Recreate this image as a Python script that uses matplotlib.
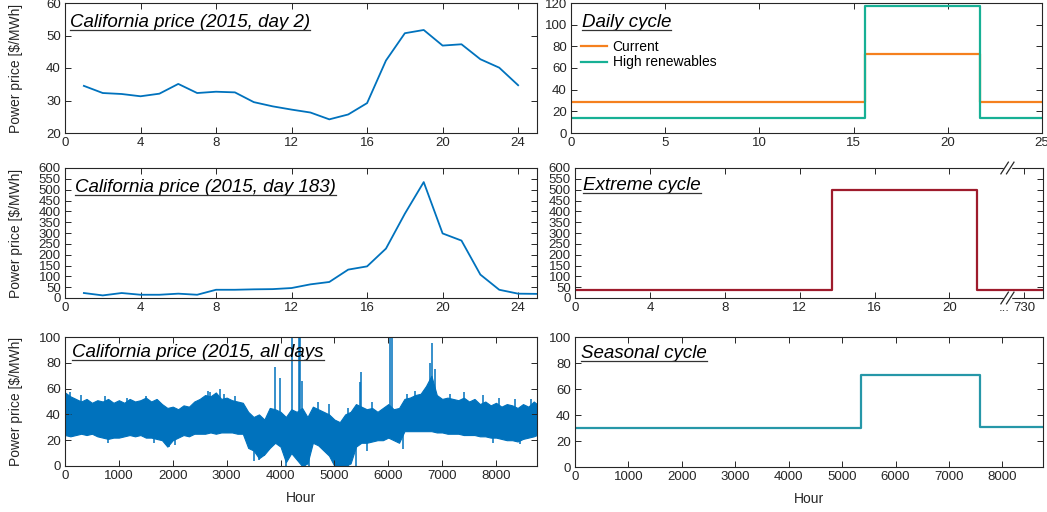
import numpy as np
import matplotlib
matplotlib.use('Agg')
import matplotlib.pyplot as plt
from matplotlib.lines import Line2D

plt.rcParams['font.family'] = ['Liberation Sans', 'DejaVu Sans']
plt.rcParams['font.size'] = 9

# --- data ---
day2_hours = list(range(1, 25))
day2_price = [34.5, 32.3, 32.0, 31.3, 32.1, 35.1, 32.3, 32.7, 32.5, 29.5, 28.2, 27.2,
              26.3, 24.2, 25.7, 29.2, 42.3, 50.7, 51.7, 46.9, 47.3, 42.7, 40.1, 34.7]

day183_hours = list(range(1, 26))
day183_price = [23, 12, 23, 15, 15, 20, 15, 38, 38, 40, 41, 46, 63, 74, 131, 146,
                228, 389, 535, 298, 265, 108, 38, 20, 19]

# whole year: price band (low / high) read every 100 hours, plus visible spikes
year_hours = list(range(0, 8760, 100)) + [8760]
year_band_high = [57, 54, 52, 50, 52, 49, 51, 50, 52, 49,
                  51, 49, 52, 50, 51, 53, 50, 52, 48, 45,
                  46, 44, 47, 46, 50, 52, 55, 54, 57, 52,
                  53, 51, 50, 49, 42, 38, 40, 36, 45, 44,
                  42, 38, 44, 42, 45, 38, 46, 44, 42, 40,
                  36, 34, 40, 42, 48, 46, 44, 45, 42, 45,
                  48, 44, 45, 52, 53, 55, 56, 62, 70, 55,
                  52, 53, 52, 51, 53, 50, 52, 48, 50, 47,
                  49, 46, 48, 47, 45, 48, 46, 50, 48]
year_band_low = [24, 23, 24, 25, 24, 25, 23, 22, 21, 22,
                 22, 23, 24, 23, 24, 22, 22, 21, 20, 15,
                 20, 22, 24, 23, 25, 25, 25, 26, 25, 26,
                 26, 26, 25, 25, 14, 12, 6, 9, 14, 18,
                 15, 3, 10, 5, 0, 2, 18, 16, 12, 8,
                 0, 0, 0, 2, 15, 18, 18, 19, 20, 20,
                 22, 20, 18, 27, 27, 27, 27, 27, 27, 26,
                 26, 25, 25, 25, 24, 24, 24, 23, 23, 22,
                 22, 21, 20, 20, 19, 21, 22, 23, 24]
spike_hours = [0, 100, 2700, 2870, 3900, 3990, 4220, 4340, 4360, 4400, 5470, 5500,
               6030, 6070, 6780, 6820, 6870,
               300, 750, 1150, 1500, 2650, 2950, 3150, 4700, 4900, 5250, 5700,
               6350, 6500, 7150, 7400, 7750, 8050, 8350, 8650,
               1930, 3600, 3700, 4100, 4250, 4450, 4520, 5050, 5150, 5250, 5400, 6270,
               800, 1650, 2050, 3500, 5600, 7950, 8450]
spike_price = [58, 57, 57, 60, 77, 68, 130, 130, 130, 66, 65, 73,
               130, 130, 80, 95, 75,
               55, 54, 53, 54, 58, 56, 54, 50, 48, 45, 50,
               56, 58, 56, 57, 55, 53, 52, 52,
               15, 5, 8, 0, 15, 0, 0, 0, 0, 0, 0, 13,
               18, 18, 16, 4, 12, 18, 17]

# stylised cycles: segment edges and levels
daily_edges = [0, 15.6, 21.7, 25]
daily_current = [29, 73, 28.5]
daily_high_ren = [14, 117, 14]

extreme_edges = [0, 13.75, 21.5, 25]
extreme_levels = [35, 500, 35]

seasonal_edges = [0, 5350, 7580, 8760]
seasonal_levels = [30, 71, 31]

blue = '#0072BD'
axcol = '#262626'

W, H = 1047, 512
fig = plt.figure(figsize=(W / 100, H / 100), dpi=100)


def px_axes(x0, y0, x1, y1):
    return fig.add_axes([x0 / W, 1 - y1 / H, (x1 - x0) / W, (y1 - y0) / H])


def style(ax):
    ax.tick_params(direction='in', top=True, right=True, length=4, width=0.7,
                   colors=axcol, labelsize=9.5, pad=3)
    for s in ax.spines.values():
        s.set_color(axcol)
        s.set_linewidth(0.8)


def steps(edges, levels):
    # turn segment edges/levels into a step outline
    return edges, list(levels) + [levels[-1]]


titles = []

# top-left
ax1 = px_axes(65, 3, 537, 133)
ax1.plot(day2_hours, day2_price, color=blue, lw=1.3)
ax1.set_xlim(0, 25)
ax1.set_ylim(20, 60)
ax1.set_xticks(range(0, 25, 4))
ax1.set_yticks(range(20, 61, 10))
titles.append(ax1.text(5 / 472, 1 - 24 / 130, 'California price (2015, day 2)',
                       transform=ax1.transAxes, style='italic', fontsize=13.5, va='baseline'))

# middle-left
ax2 = px_axes(65, 168, 537, 298)
ax2.plot(day183_hours, day183_price, color=blue, lw=1.3)
ax2.set_xlim(0, 25)
ax2.set_ylim(0, 600)
ax2.set_xticks(range(0, 25, 4))
ax2.set_yticks(range(0, 601, 50))
titles.append(ax2.text(10 / 472, 1 - 24 / 130, 'California price (2015, day 183)',
                       transform=ax2.transAxes, style='italic', fontsize=13.5, va='baseline'))

# bottom-left
ax3 = px_axes(65, 337, 537, 466)
ax3.fill_between(year_hours, year_band_low, year_band_high, color=blue, lw=0.8,
                 edgecolor=blue)
ax3.vlines(spike_hours, 35, spike_price, color=blue, lw=1.1)
ax3.set_xlim(0, 8760)
ax3.set_ylim(0, 100)
ax3.set_xticks(range(0, 8001, 1000))
ax3.set_yticks(range(0, 101, 20))
ax3.set_xlabel('Hour', fontsize=10, color=axcol)
ax3.xaxis.set_label_coords(0.5, -0.19)
titles.append(ax3.text(7 / 472, 1 - 20 / 129, 'California price (2015, all days',
                       transform=ax3.transAxes, style='italic', fontsize=13.5, va='baseline'))

for ax in (ax1, ax2, ax3):
    ax.set_ylabel('Power price [$/MWh]', fontsize=10, color=axcol)
    ax.yaxis.set_label_coords(-0.09, 0.5)

# top-right
ax4 = px_axes(571, 3, 1042, 133)
ex, lv = steps(daily_edges, daily_current)
ax4.step(ex, lv, where='post', color='#F5801E', lw=1.6, label='Current')
ex, lv = steps(daily_edges, daily_high_ren)
ax4.step(ex, lv, where='post', color='#17B095', lw=1.6, label='High renewables')
ax4.set_xlim(0, 25)
ax4.set_ylim(0, 120)
ax4.set_xticks(range(0, 26, 5))
ax4.set_yticks(range(0, 121, 20))
ax4.legend(loc='upper left', bbox_to_anchor=(0.0, 0.79), frameon=False, fontsize=10,
           handlelength=1.9, handletextpad=0.4, labelspacing=0.1, borderaxespad=0.3)
titles.append(ax4.text(11 / 471, 1 - 24 / 130, 'Daily cycle',
                       transform=ax4.transAxes, style='italic', fontsize=13.5, va='baseline'))

# middle-right
ax5 = px_axes(575, 168, 1043, 298)
ex, lv = steps(extreme_edges, extreme_levels)
ax5.step(ex, lv, where='post', color='#9E1B2C', lw=1.6)
ax5.set_xlim(0, 25)
ax5.set_ylim(0, 600)
ax5.set_xticks([0, 4, 8, 12, 16, 20, 24])
ax5.set_xticklabels(['0', '4', '8', '12', '16', '20', '730'])
ax5.set_yticks(range(0, 601, 50))
ax5.text(22.9, -0.03, '...', transform=ax5.get_xaxis_transform(), ha='center',
         va='top', fontsize=9.5, color=axcol)
bx = 23.1 / 25
for yb in (0.0, 1.0):
    ax5.plot([bx - 0.006, bx + 0.006], [yb, yb], transform=ax5.transAxes,
             color='white', lw=2.5, clip_on=False, zorder=5)
    for dx in (-0.006, 0.006):
        ax5.plot([bx + dx - 0.008, bx + dx + 0.008], [yb - 0.045, yb + 0.045],
                 transform=ax5.transAxes, color=axcol, lw=0.9, clip_on=False, zorder=6)
titles.append(ax5.text(8 / 468, 1 - 22 / 130, 'Extreme cycle',
                       transform=ax5.transAxes, style='italic', fontsize=13.5, va='baseline'))

# bottom-right
ax6 = px_axes(575, 337, 1043, 467)
ex, lv = steps(seasonal_edges, seasonal_levels)
ax6.step(ex, lv, where='post', color='#2697A8', lw=1.6)
ax6.set_xlim(0, 8760)
ax6.set_ylim(0, 100)
ax6.set_xticks(range(0, 8001, 1000))
ax6.set_yticks(range(0, 101, 20))
ax6.set_xlabel('Hour', fontsize=10, color=axcol)
ax6.xaxis.set_label_coords(0.5, -0.19)
titles.append(ax6.text(6 / 468, 1 - 21 / 130, 'Seasonal cycle',
                       transform=ax6.transAxes, style='italic', fontsize=13.5, va='baseline'))

for ax in (ax1, ax2, ax3, ax4, ax5, ax6):
    style(ax)

# underline the panel titles
fig.canvas.draw()
rend = fig.canvas.get_renderer()
for t in titles:
    bb = t.get_window_extent(rend)
    _, ybase = t.get_transform().transform(t.get_position())
    yl = (ybase - 3) / H
    fig.add_artist(Line2D([bb.x0 / W, bb.x1 / W], [yl, yl], color='#333333', lw=0.9))

fig.savefig('out.png', dpi=100)
